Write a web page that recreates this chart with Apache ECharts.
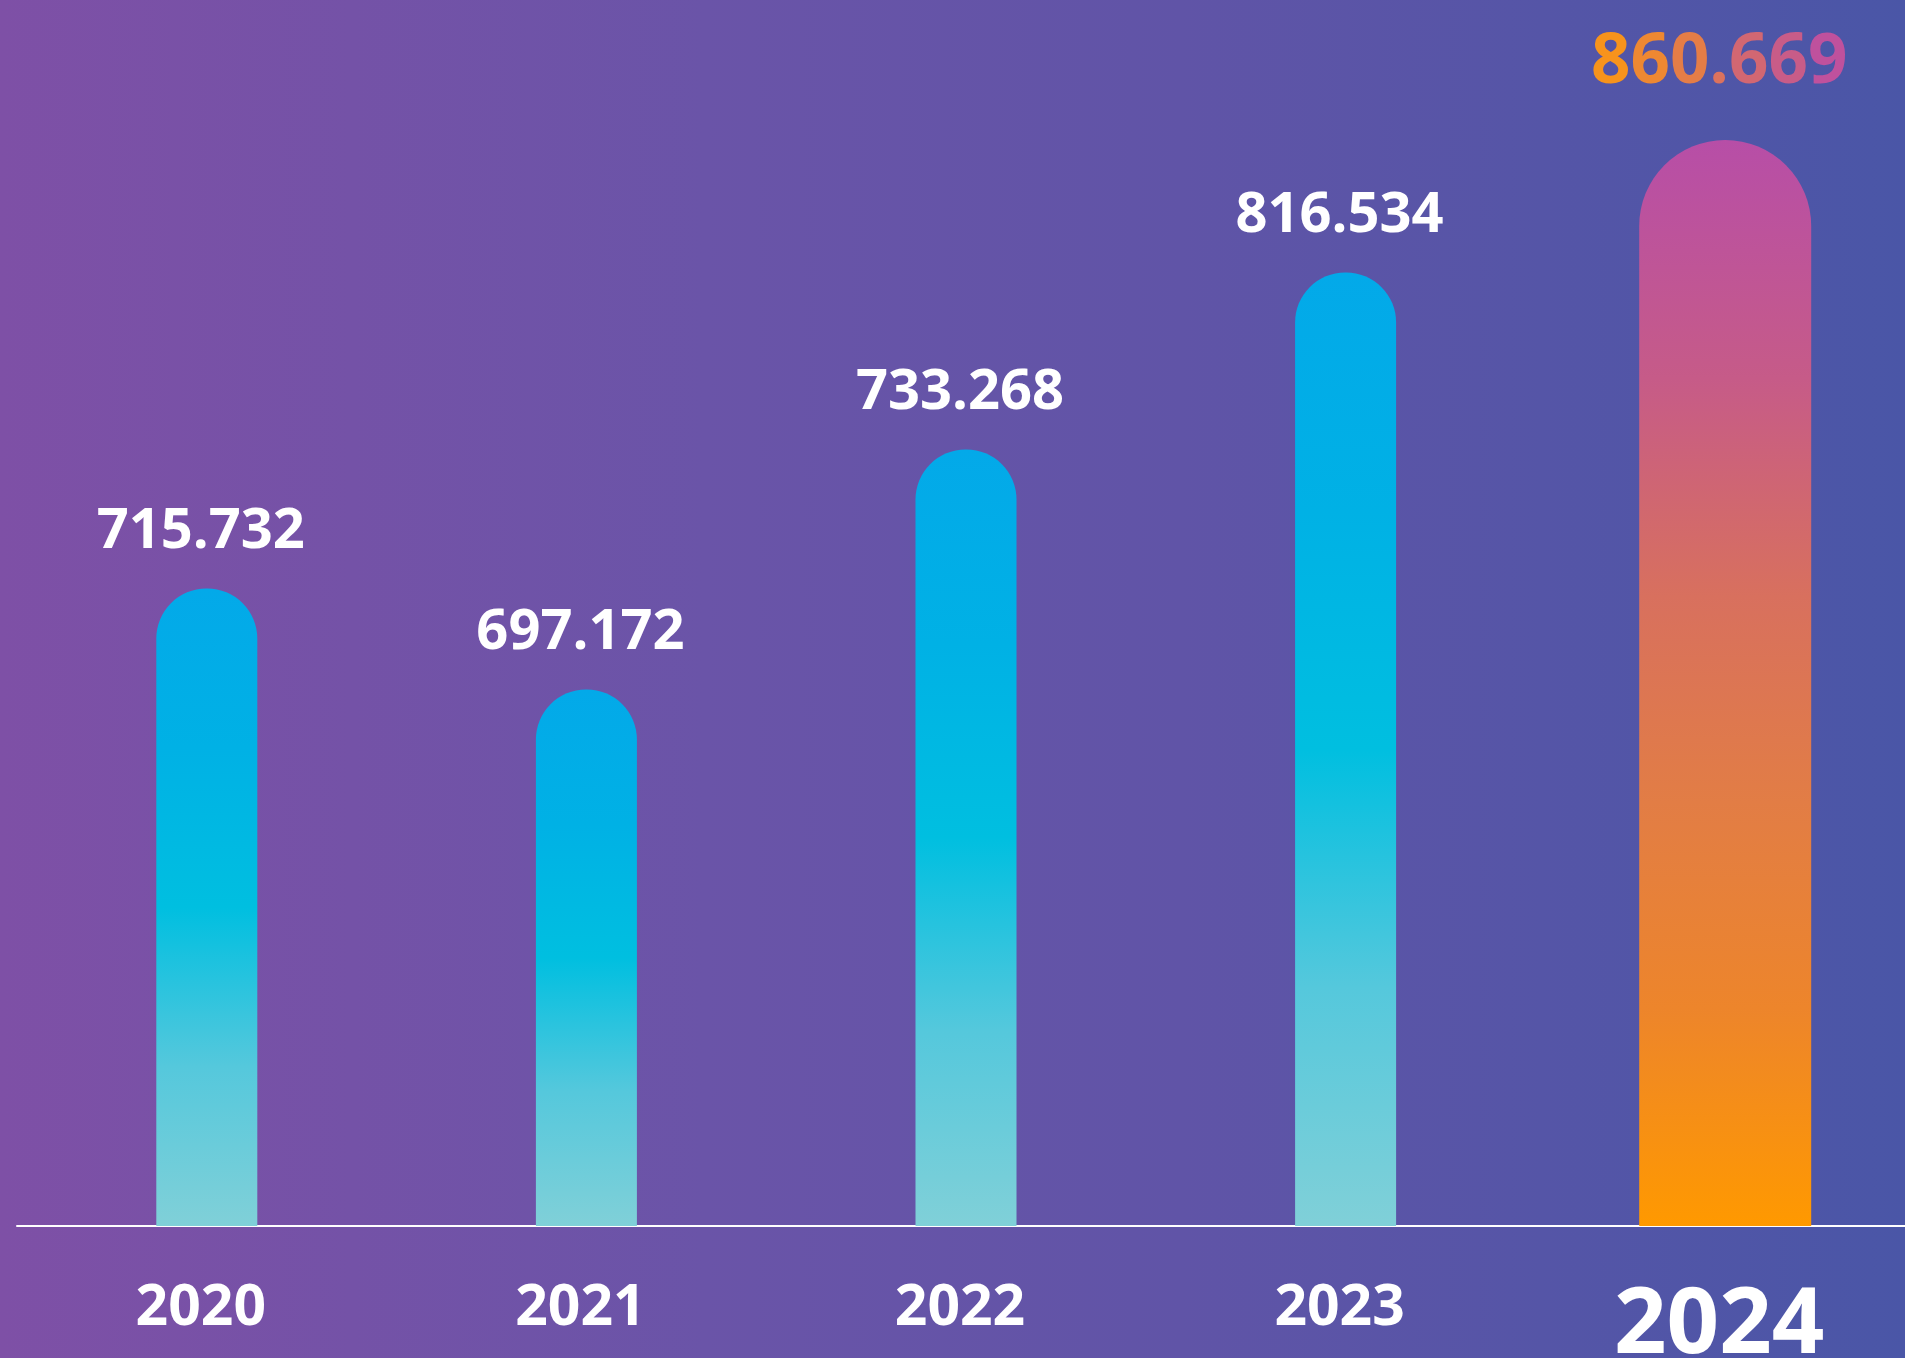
<!DOCTYPE html>
<html>
<head>
<meta charset="utf-8">
<title>2020-2024</title>
<script src="https://cdn.jsdelivr.net/npm/echarts@6/dist/echarts.min.js"></script>
<style>
  html, body {
    margin: 0;
    padding: 0;
    background: #6553a6;
  }
  #chart {
    width: 1905px;
    height: 1358px;
  }
</style>
</head>
<body>
<div id="chart"></div>
<script>
// years on the axis
const years = ['2020', '2021', '2022', '2023', '2024']
// value printed above each bar
const values = [715.732, 697.172, 733.268, 816.534, 860.669]
// bar height as drawn in the picture, tallest bar = 100
const drawnHeights = [58.7, 49.4, 71.5, 87.8, 100]
// the last year is highlighted
const highlightIndex = 4

const blueData = drawnHeights.map((v, i) => (i === highlightIndex ? '-' : v))
const hotData = drawnHeights.map((v, i) => (i === highlightIndex ? v : '-'))

const font = '"Open Sans", "Noto Sans", sans-serif'

// the highlighted number goes from orange to pink, letter by letter
const hotFrom = [247, 147, 28]
const hotTo = [191, 81, 157]
function mix(t) {
  const c = hotFrom.map((a, k) => Math.round(a + (hotTo[k] - a) * t))
  return 'rgb(' + c.join(',') + ')'
}
const hotText = values[highlightIndex].toFixed(3)
const hotRich = {}
for (let i = 0; i < hotText.length; i++) {
  hotRich['c' + i] = {
    fontFamily: font,
    fontWeight: 'bold',
    fontSize: 69,
    lineHeight: 74,
    color: mix(i / (hotText.length - 1))
  }
}

const chart = echarts.init(document.getElementById('chart'))

const options = {
  backgroundColor: {
    type: 'linear',
    x: 0, y: 0, x2: 1, y2: 0,
    colorStops: [
      { offset: 0, color: '#7e50a6' },
      { offset: 0.37, color: '#6a54a8' },
      { offset: 0.62, color: '#6054a7' },
      { offset: 1, color: '#4a56a7' }
    ]
  },
  animation: false,
  grid: {
    left: 17,
    top: 140,
    width: 1898,
    bottom: 132,
    outerBoundsMode: 'none'
  },
  xAxis: [
    {
      type: 'category',
      data: years,
      axisLine: {
        show: true,
        lineStyle: {
          color: '#ffffff',
          width: 2
        }
      },
      axisTick: { show: false },
      axisLabel: {
        margin: 53,
        fontFamily: font,
        formatter: (v, i) => (i === highlightIndex ? '{big|' + v + '}' : '{n|' + v + '}'),
        rich: {
          n: {
            fontFamily: font,
            fontWeight: 'bold',
            fontSize: 57,
            lineHeight: 60,
            padding: [0, 12, 0, 0],
            color: '#ffffff'
          },
          big: {
            fontFamily: font,
            fontWeight: 'bold',
            fontSize: 92,
            lineHeight: 96,
            padding: [0, 12, 0, 0],
            color: '#ffffff'
          }
        }
      },
      splitLine: { show: false }
    },
    {
      type: 'category',
      data: years,
      show: false
    }
  ],
  yAxis: {
    type: 'value',
    min: 0,
    max: 100,
    show: false,
    splitLine: { show: false }
  },
  series: [
    {
      name: 'blue',
      type: 'bar',
      xAxisIndex: 0,
      data: blueData,
      barWidth: 101,
      itemStyle: {
        borderRadius: [50, 50, 0, 0],
        color: {
          type: 'linear',
          x: 0, y: 0, x2: 0, y2: 1,
          colorStops: [
            { offset: 0, color: '#03a9e9' },
            { offset: 0.25, color: '#00b1e5' },
            { offset: 0.5, color: '#00bfe0' },
            { offset: 0.75, color: '#55c8dc' },
            { offset: 1, color: '#80d0d8' }
          ]
        }
      },
      label: {
        show: true,
        position: 'top',
        distance: 28,
        offset: [-6, 0],
        fontFamily: font,
        fontWeight: 'bold',
        fontSize: 56,
        lineHeight: 56,
        color: '#ffffff',
        formatter: p => values[p.dataIndex].toFixed(3)
      }
    },
    {
      name: 'hot',
      type: 'bar',
      xAxisIndex: 1,
      data: hotData,
      barWidth: 172,
      itemStyle: {
        borderRadius: [86, 86, 0, 0],
        color: {
          type: 'linear',
          x: 0, y: 0, x2: 0, y2: 1,
          colorStops: [
            { offset: 0, color: '#b74ea7' },
            { offset: 0.22, color: '#c65b88' },
            { offset: 0.42, color: '#d8705e' },
            { offset: 0.61, color: '#e27d45' },
            { offset: 0.8, color: '#ed852b' },
            { offset: 1, color: '#ff9900' }
          ]
        }
      },
      label: {
        show: true,
        position: 'top',
        distance: 40,
        offset: [-6, 0],
        rich: hotRich,
        formatter: p => values[p.dataIndex].toFixed(3).split('').map((ch, i) => '{c' + i + '|' + ch + '}').join('')
      }
    }
  ]
}

chart.setOption(options)
</script>
</body>
</html>
